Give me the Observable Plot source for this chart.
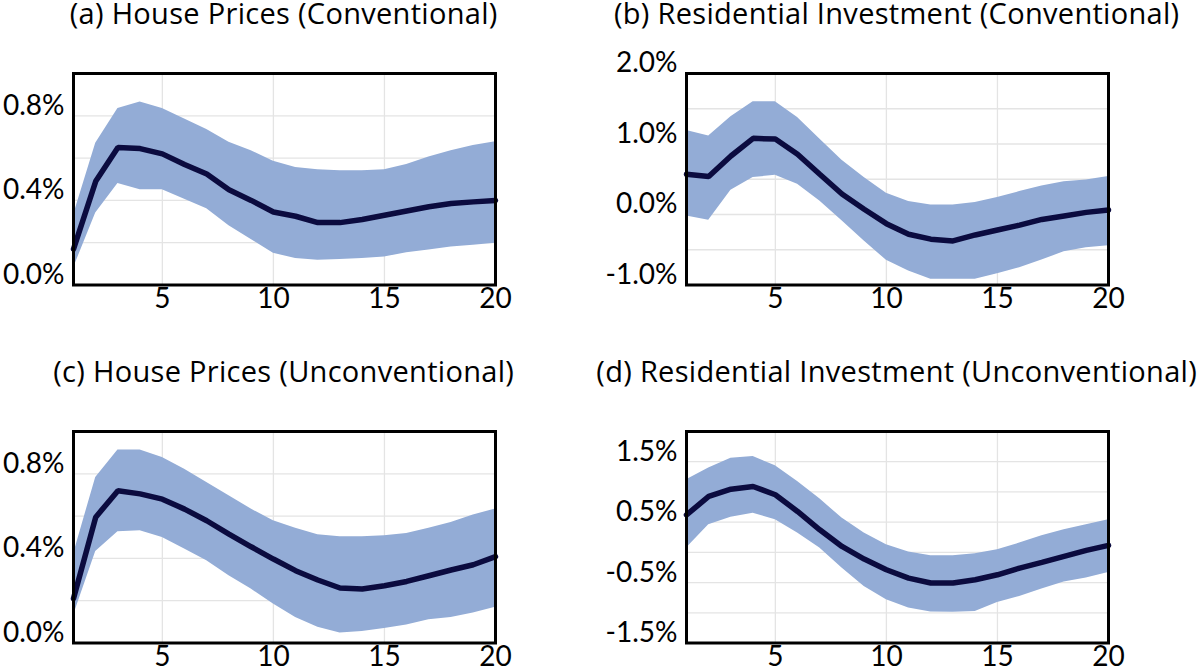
<!DOCTYPE html>
<html>
<head>
<meta charset="utf-8">
<script src="https://cdn.jsdelivr.net/npm/d3@7"></script>
<script src="https://cdn.jsdelivr.net/npm/@observablehq/plot@0.6"></script>
<style>
  html, body { margin: 0; padding: 0; background: #fff; }
  #root { position: relative; width: 1200px; height: 669px; overflow: hidden; background: #fff; font-family: Lato, sans-serif; }
  .title { position: absolute; width: 900px; text-align: center; font-family: "Open Sans", sans-serif; font-size: 29px; letter-spacing: 0.3px; line-height: 28px; color: #000; white-space: nowrap; }
  .panel { position: absolute; }
</style>
</head>
<body>
<div id="root"></div>
<script>
const periods = [1,2,3,4,5,6,7,8,9,10,11,12,13,14,15,16,17,18,19,20];

// (a) House Prices (Conventional), percent
const hpConvMid = [0.17,0.49,0.65,0.645,0.62,0.57,0.525,0.45,0.40,0.345,0.325,0.295,0.295,0.31,0.33,0.35,0.37,0.385,0.393,0.40];
const hpConvHi  = [0.33,0.67,0.835,0.865,0.835,0.785,0.735,0.675,0.635,0.585,0.555,0.545,0.54,0.54,0.545,0.57,0.605,0.635,0.66,0.677];
const hpConvLo  = [0.08,0.34,0.48,0.45,0.45,0.405,0.36,0.28,0.215,0.15,0.125,0.117,0.12,0.125,0.132,0.153,0.165,0.18,0.188,0.197];

// (b) Residential Investment (Conventional), percent
const riConvMid = [0.57,0.54,0.83,1.08,1.07,0.855,0.57,0.29,0.075,-0.13,-0.28,-0.35,-0.375,-0.29,-0.22,-0.15,-0.07,-0.02,0.03,0.065];
const riConvHi  = [1.19,1.115,1.385,1.60,1.60,1.375,1.07,0.77,0.525,0.30,0.185,0.135,0.135,0.17,0.24,0.325,0.405,0.465,0.49,0.54];
const riConvLo  = [-0.02,-0.08,0.345,0.525,0.555,0.43,0.19,-0.09,-0.375,-0.65,-0.80,-0.92,-0.92,-0.92,-0.84,-0.755,-0.645,-0.53,-0.47,-0.445];

// (c) House Prices (Unconventional), percent
const hpUncMid = [0.21,0.595,0.72,0.705,0.68,0.633,0.578,0.515,0.455,0.397,0.342,0.298,0.26,0.255,0.271,0.291,0.318,0.345,0.37,0.408];
const hpUncHi  = [0.42,0.783,0.912,0.912,0.877,0.822,0.759,0.696,0.633,0.578,0.542,0.512,0.502,0.502,0.507,0.518,0.542,0.57,0.605,0.633];
const hpUncLo  = [0.13,0.433,0.526,0.531,0.499,0.444,0.389,0.318,0.255,0.184,0.121,0.074,0.047,0.054,0.069,0.085,0.11,0.121,0.142,0.169];

// (d) Residential Investment (Unconventional), percent
const riUncMid = [0.62,0.925,1.046,1.09,0.953,0.677,0.374,0.098,-0.111,-0.288,-0.426,-0.508,-0.508,-0.453,-0.371,-0.26,-0.167,-0.067,0.032,0.115];
const riUncHi  = [1.20,1.394,1.559,1.587,1.433,1.173,0.886,0.567,0.319,0.126,0.004,-0.056,-0.056,-0.023,0.043,0.153,0.275,0.374,0.456,0.539];
const riUncLo  = [0.071,0.456,0.583,0.649,0.539,0.319,0.071,-0.26,-0.563,-0.784,-0.922,-0.988,-0.993,-0.977,-0.828,-0.729,-0.607,-0.492,-0.426,-0.332];

const titles = [
  "(a) House Prices (Conventional)",
  "(b) Residential Investment (Conventional)",
  "(c) House Prices (Unconventional)",
  "(d) Residential Investment (Unconventional)"
];

const xTicks = [5, 10, 15, 20];
const xGrid = [5, 10, 15];
const hpDomain = [0, 1.0];
const hpTicks = [0, 0.4, 0.8];
const hpGrid = [0.2, 0.4, 0.6, 0.8];
const riConvDomain = [-1.0, 2.0];
const riConvTicks = [-1.0, 0.0, 1.0, 2.0];
const riConvGrid = [-0.5, 0, 0.5, 1.0, 1.5];
const riUncDomain = [-1.5, 2.0];
const riUncTicks = [-1.5, -0.5, 0.5, 1.5];
const riUncGrid = [-1.0, -0.5, 0, 0.5, 1.0, 1.5];

const panels = [
  {title: titles[0], mid: hpConvMid, hi: hpConvHi, lo: hpConvLo, domain: hpDomain, ticks: hpTicks, grid: hpGrid, left: 72.7, top: 72.7},
  {title: titles[1], mid: riConvMid, hi: riConvHi, lo: riConvLo, domain: riConvDomain, ticks: riConvTicks, grid: riConvGrid, left: 685.7, top: 72.7},
  {title: titles[2], mid: hpUncMid, hi: hpUncHi, lo: hpUncLo, domain: hpDomain, ticks: hpTicks, grid: hpGrid, left: 72.7, top: 430.7},
  {title: titles[3], mid: riUncMid, hi: riUncHi, lo: riUncLo, domain: riUncDomain, ticks: riUncTicks, grid: riUncGrid, left: 685.7, top: 430.7}
];

const FW = 422, FH = 211.5;
const ML = 90, MR = 50, MT = 45, MB = 45;
const root = document.getElementById("root");

for (const p of panels) {
  const data = periods.map((t, i) => ({t, mid: p.mid[i], hi: p.hi[i], lo: p.lo[i]}));
  const chart = Plot.plot({
    width: ML + FW + MR,
    height: MT + FH + MB,
    marginLeft: ML, marginRight: MR, marginTop: MT, marginBottom: MB,
    style: {fontFamily: "Lato, sans-serif", fontSize: "28px", color: "#000", background: "transparent", overflow: "visible"},
    x: {domain: [1, 20], label: null},
    y: {domain: p.domain, label: null},
    marks: [
      Plot.gridX(xGrid, {stroke: "#e4e4e4", strokeOpacity: 1, strokeWidth: 1.3}),
      Plot.gridY(p.grid, {stroke: "#e4e4e4", strokeOpacity: 1, strokeWidth: 1.3}),
      Plot.areaY(data, {x: "t", y1: "lo", y2: "hi", fill: "#93acd6", fillOpacity: 1}),
      Plot.lineY(data, {x: "t", y: "mid", stroke: "#0b0b3f", strokeWidth: 5.5, strokeLinejoin: "miter"}),
      Plot.frame({stroke: "#000", strokeWidth: 3}),
      Plot.axisX(xTicks, {label: null, tickSize: 0, tickPadding: 3, fontSize: 28, tickFormat: d => String(d)}),
      Plot.axisY(p.ticks, {label: null, tickSize: 0, tickPadding: 9, dy: -10, fontSize: 28, tickFormat: d => d.toFixed(1) + "%"})
    ]
  });
  chart.classList.add("panel");
  chart.style.left = (p.left - ML) + "px";
  chart.style.top = (p.top - MT) + "px";
  root.appendChild(chart);

  const t = document.createElement("div");
  t.className = "title";
  t.textContent = p.title;
  t.style.left = (p.left + FW / 2 - 450) + "px";
  t.style.top = (p.top - 74) + "px";
  root.appendChild(t);
}
</script>
</body>
</html>
